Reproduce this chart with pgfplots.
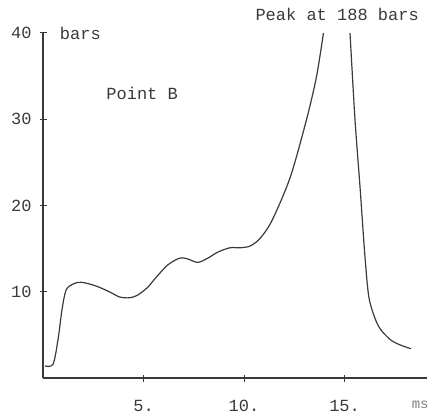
\documentclass[border=0pt]{standalone}
\usepackage{pgfplots}
\pgfplotsset{compat=1.18}
\usepackage{fontspec}
\setmainfont{Liberation Mono}
\definecolor{ink}{HTML}{3A3A3A}
\begin{document}
\begin{tikzpicture}
\fontsize{17}{20}\selectfont
\path[use as bounding box] (-43pt,-41pt) rectangle (400pt,378pt);
\begin{axis}[
    at={(0,0)}, anchor=south west,
    scale only axis, width=384pt, height=345pt,
    xmin=0, xmax=19.1, ymin=0, ymax=40,
    axis lines=left, axis line style={ink, line width=1.6pt, -},
    clip=false,
    xtick={5,10,15}, xticklabels={5.,10.,15.},
    ytick={10,20,30,40},
    tick align=center, major tick length=7pt,
    tick style={ink, line width=1pt},
    xticklabel style={anchor=base, yshift=-30pt},
    yticklabel style={xshift=-2pt},
    tick label style={ink, font=\fontsize{17}{20}\selectfont},
    /pgf/number format/assume math mode=true,
  ]
  \addplot[ink, line width=1.2pt, smooth, tension=0.5] coordinates {
    (0.1,1.4) (0.5,1.6) (0.75,4.5) (0.95,8.0) (1.15,10.2) (1.5,10.9)
    (1.9,11.1) (2.6,10.7) (3.3,10.0) (3.8,9.4) (4.3,9.3) (4.7,9.6)
    (5.2,10.5) (5.6,11.6) (6.2,13.1) (6.8,13.9) (7.2,13.8) (7.7,13.4)
    (8.2,13.9) (8.7,14.6) (9.3,15.1) (9.8,15.1) (10.3,15.3) (10.8,16.2)
    (11.4,18.3) (12.3,23.3) (13.1,29.9) (13.6,34.9) (13.95,40.0)
  };
  \addplot[ink, line width=1.2pt, smooth, tension=0.5] coordinates {
    (15.27,40.0) (15.52,29.9) (15.77,22.1) (16.0,14.5) (16.2,9.5)
    (16.5,7.0) (16.8,5.6) (17.3,4.4) (17.8,3.8) (18.3,3.4)
  };
  \node[ink, anchor=west] at (axis cs:0.55,40) {bars};
  \node[ink] at (axis cs:4.93,33.0) {Point B};
  \node[ink] at (axis cs:14.63,42.2) {Peak at 188 bars};
  \node[gray, font=\fontsize{14}{16}\selectfont] at (axis cs:18.76,-3.1) {ms};
\end{axis}
\end{tikzpicture}
\end{document}
